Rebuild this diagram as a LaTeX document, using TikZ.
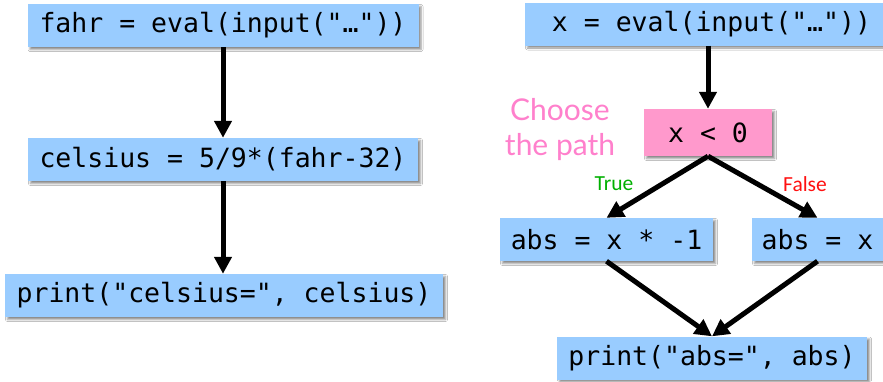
\documentclass[tikz,border=0pt]{standalone}
\usepackage{fontspec}
\setmonofont{DejaVu Sans Mono}
\newfontfamily\notefont{Lato}
\newfontfamily\labelfont{Carlito}
\usetikzlibrary{arrows.meta,shadows.blur}
\definecolor{codeblue}{HTML}{99CCFF}
\definecolor{condpink}{HTML}{FF99CC}
\definecolor{notepink}{HTML}{FF80CC}
\definecolor{truegreen}{HTML}{00B000}
\definecolor{falsered}{HTML}{FF1010}
\tikzset{
  codebox/.style={rectangle, fill=codeblue, inner sep=0pt, minimum height=43pt,
    font=\fontsize{26.5}{30}\selectfont\ttfamily,
    blur shadow={shadow xshift=2.5pt, shadow yshift=-2.5pt, shadow blur radius=2pt, shadow opacity=45}},
  condbox/.style={codebox, fill=condpink, minimum height=47pt},
  flow/.style={line width=5pt, -{Triangle[width=17pt,length=17pt]}},
  branchlabel/.style={font=\fontsize{21.5}{24}\selectfont\labelfont}
}
\begin{document}
\begin{tikzpicture}[x=1pt,y=1pt]
  \useasboundingbox (0,0) rectangle (883,-381);
  \fill[white] (0,0) rectangle (883,-381);

  % straight-line program
  \node[codebox, minimum width=391pt] (fahr) at (223,-25.5) {fahr = eval(input("…"))};
  \node[codebox, minimum width=390pt] (cels) at (223,-159.5) {celsius = 5/9*(fahr-32)};
  \node[codebox, minimum width=438pt] (pcel) at (224,-295.5) {print("celsius=", celsius)};
  \draw[flow] (fahr.south) -- (cels.north);
  \draw[flow] (cels.south) -- (cels.south |- pcel.north);

  % branching program
  \node[codebox, minimum width=358pt] (xin) at (704,-24) {\hspace*{15pt}x = eval(input("…"))};
  \node[condbox, minimum width=128pt] (cond) at (708,-132.5) {x < 0};
  \node[codebox, minimum width=213pt] (neg) at (606.5,-239.5) {abs = x * -1};
  \node[codebox, minimum width=131pt] (pos) at (817.5,-239.5) {abs = x};
  \node[codebox, minimum width=310pt] (pabs) at (712,-358) {print("abs=", abs)};

  \node[text=notepink, align=center, font=\fontsize{30}{35}\selectfont\notefont] (note) at (560,-130) {Choose\\the path};

  \draw[flow] (cond.north |- xin.south) -- (cond.north);
  \draw[flow] (cond.south) -- (neg.north);
  \draw[flow] (cond.south) -- (pos.north);
  \draw[flow] (neg.south) -- (pabs.north);
  \draw[flow] (pos.south) -- (pabs.north);

  \node[branchlabel, text=truegreen] (tlab) at (614,-184) {True};
  \node[branchlabel, text=falsered] (flab) at (805,-184) {False};
\end{tikzpicture}
\end{document}
